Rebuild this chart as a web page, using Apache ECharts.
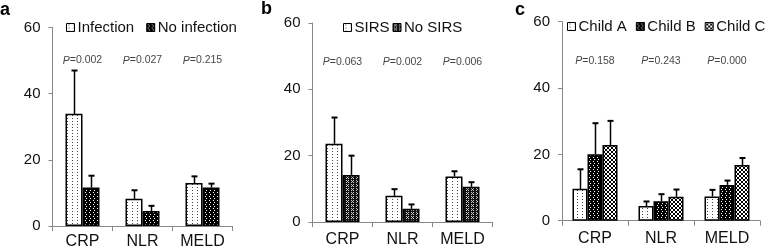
<!DOCTYPE html>
<html><head><meta charset="utf-8">
<script src="https://cdn.jsdelivr.net/npm/echarts@6/dist/echarts.min.js"></script>
<style>html,body{margin:0;padding:0;background:#fff}#c{width:777px;height:250px}</style>
</head><body><div id="c"></div>
<script>
// ---- data ----
const categories = ['CRP', 'NLR', 'MELD'];
// panel a
const infection = [33.9, 8.2, 13.0];
const infectionErr = [47.0, 10.8, 15.0];
const noInfection = [11.6, 4.5, 11.6];
const noInfectionErr = [15.2, 6.1, 12.8];
const pA = ['0.002', '0.027', '0.215'];
// panel b
const sirs = [23.6, 7.9, 13.7];
const sirsErr = [31.5, 9.9, 15.3];
const noSirs = [14.2, 4.0, 10.6];
const noSirsErr = [20.0, 5.3, 12.0];
const pB = ['0.063', '0.002', '0.006'];
// panel c
const childA = [9.6, 4.4, 7.3];
const childAErr = [15.5, 5.8, 9.3];
const childB = [20.0, 5.9, 10.8];
const childBErr = [29.4, 8.0, 12.1];
const childC = [22.8, 7.2, 16.8];
const childCErr = [30.1, 9.4, 18.9];
const pC = ['0.158', '0.243', '0.000'];
const yTickMin = 0, yTickMax = 60, yTickStep = 20;

// ---- patterns ----
function pattern(rows, dark, light) {
  const h = rows.length, w = rows[0].length;
  const cv = document.createElement('canvas');
  cv.width = w; cv.height = h;
  const ctx = cv.getContext('2d');
  for (let y = 0; y < h; y++) for (let x = 0; x < w; x++) {
    ctx.fillStyle = rows[y][x] === '#' ? dark : light;
    ctx.fillRect(x, y, 1, 1);
  }
  return { image: cv, repeat: 'repeat' };
}
const dots = pattern(['.....', '..#..', '.....'], '#444', '#fff');
const denseA = pattern(['#.##', '####', '##.#', '####'], '#000', '#fff');
const denseB = pattern(['#.#.#', '##.##', '#.#.#', '#####'], '#111', '#ccc');
const childBPat = pattern(['####', '#.##', '####', '##.#'], '#000', '#fff');
const childCPat = pattern(['#..#', '.##.', '.##.', '#..#'], '#000', '#fff');

const FONT = "'Liberation Sans', Arial, Helvetica, sans-serif";

function grid(left, top, width) { return { left, top, width, height: 199 }; }
const grids = [grid(52.5, 27.5, 180), grid(312.5, 23, 180), grid(562, 21.7, 198)];
const labelMargins = [8, 10, 10];

const xAxes = grids.map((g, i) => ({
  type: 'category', gridIndex: i, data: categories,
  axisLine: { lineStyle: { color: '#888', width: 1 } },
  axisTick: { show: true, length: 5, lineStyle: { color: '#888' } },
  axisLabel: { color: '#111', fontSize: 16, fontFamily: FONT, margin: labelMargins[i] }
}));
const yAxes = grids.map((g, i) => ({
  type: 'value', gridIndex: i, min: yTickMin, max: yTickMax, interval: yTickStep,
  axisLine: { show: true, lineStyle: { color: '#888', width: 1 } },
  axisTick: { show: true, length: 4, lineStyle: { color: '#888' } },
  splitLine: { show: false },
  axisLabel: { color: '#111', fontSize: 15, fontFamily: FONT, margin: 12 }
}));

const series = [];
function addBars(idx, name, vals, errs, color, barWidth, offset) {
  series.push({
    name, type: 'bar', xAxisIndex: idx, yAxisIndex: idx, data: vals,
    barWidth, barGap: '0%',
    itemStyle: { color, borderColor: '#000', borderWidth: 1.5 },
    emphasis: { disabled: true }, animation: false
  });
  series.push({
    type: 'custom', xAxisIndex: idx, yAxisIndex: idx, silent: true, z: 5, animation: false,
    data: vals.map((v, k) => [k, v, errs[k]]),
    encode: { x: 0, y: [1, 2] },
    renderItem: function (params, api) {
      const c = api.value(0);
      const lo = api.coord([c, api.value(1)]);
      const hi = api.coord([c, api.value(2)]);
      const x = Math.round(lo[0] + offset) + 0.5;
      return {
        type: 'group', children: [
          { type: 'line', shape: { x1: x, y1: lo[1], x2: x, y2: hi[1] }, style: { stroke: '#000', lineWidth: 1.5 } },
          { type: 'line', shape: { x1: x - 3, y1: hi[1], x2: x + 3, y2: hi[1] }, style: { stroke: '#000', lineWidth: 2 } }
        ]
      };
    }
  });
}
addBars(0, 'Infection', infection, infectionErr, dots, 17, -8.5);
addBars(0, 'No infection', noInfection, noInfectionErr, denseA, 17, 8.5);
addBars(1, 'SIRS', sirs, sirsErr, dots, 17, -8.5);
addBars(1, 'No SIRS', noSirs, noSirsErr, denseB, 17, 8.5);
addBars(2, 'Child A', childA, childAErr, dots, 15, -15);
addBars(2, 'Child B', childB, childBErr, childBPat, 15, 0);
addBars(2, 'Child C', childC, childCErr, childCPat, 15, 15);

const pLevels = [50, 48.3, 48.2];
[pA, pB, pC].forEach((ps, i) => {
  series.push({
    type: 'scatter', xAxisIndex: i, yAxisIndex: i, silent: true, animation: false,
    symbolSize: 1, itemStyle: { color: 'rgba(0,0,0,0)' },
    data: ps.map((p, k) => ({ value: [k, pLevels[i]], p })),
    label: {
      show: true, position: 'inside', color: '#111', fontSize: 10.5, fontFamily: FONT,
      formatter: (d) => '{i|P}=' + d.data.p,
      rich: { i: { fontStyle: 'italic', fontSize: 10.5, fontFamily: FONT, color: '#111' } }
    }
  });
});

function legend(names, left, top, gap) {
  return {
    data: names, left, top, padding: 0, itemGap: gap, itemWidth: 8, itemHeight: 8,
    icon: 'rect', selectedMode: false,
    itemStyle: { borderColor: '#000', borderWidth: 1 },
    textStyle: { fontSize: 15, fontFamily: FONT, color: '#111', padding: [0, 0, 0, -2] }
  };
}

const chart = echarts.init(document.getElementById('c'), null, { renderer: 'canvas' });
chart.setOption({
  animation: false,
  grid: grids, xAxis: xAxes, yAxis: yAxes, series,
  legend: [
    legend(['Infection', 'No infection'], 66, 20, 12),
    legend(['SIRS', 'No SIRS'], 343, 20, 3),
    legend(['Child A', 'Child B', 'Child C'], 567, 19, 9)
  ],
  graphic: [
    { type: 'text', left: 0, top: 1, style: { text: 'a', font: 'bold 18px ' + FONT, fill: '#000' } },
    { type: 'text', left: 261, top: 0, style: { text: 'b', font: 'bold 18px ' + FONT, fill: '#000' } },
    { type: 'text', left: 515, top: 1, style: { text: 'c', font: 'bold 18px ' + FONT, fill: '#000' } }
  ]
});
</script></body></html>
